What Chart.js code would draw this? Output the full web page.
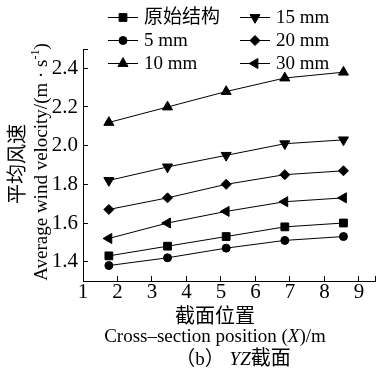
<!DOCTYPE html>
<html>
<head>
<meta charset="utf-8">
<script src="https://cdn.jsdelivr.net/npm/chart.js@4.4.0/dist/chart.umd.min.js"></script>
<style>
  html, body { margin: 0; padding: 0; background: #fff; }
  canvas { display: block; }
</style>
</head>
<body>
<canvas id="velocityChart" width="382" height="377"></canvas>
<script>
// section positions along X (m)
const positions = [1.75, 3.45, 5.15, 6.85, 8.55];

// average wind velocity (m/s) for each gap width
const original = [1.43, 1.48, 1.53, 1.58, 1.60];
const gap5 = [1.38, 1.42, 1.47, 1.51, 1.53];
const gap10 = [2.12, 2.20, 2.28, 2.35, 2.38];
const gap15 = [1.82, 1.89, 1.95, 2.01, 2.03];
const gap20 = [1.67, 1.73, 1.80, 1.85, 1.87];
const gap30 = [1.52, 1.60, 1.66, 1.71, 1.73];

const seriesLabels = ['原始结构', '5 mm', '10 mm', '15 mm', '20 mm', '30 mm'];
const xTicks = [1, 2, 3, 4, 5, 6, 7, 8, 9];
const yTicks = [1.4, 1.6, 1.8, 2.0, 2.2, 2.4];

const X_MIN = 1, X_MAX = 9.47;
const Y_MIN = 1.3, Y_MAX = 2.5;

const SERIF = "'Liberation Serif', 'Noto Sans CJK SC', serif";
const CJK = "'Noto Sans CJK SC', sans-serif";

// marker shape per series
const markers = [
  { pointStyle: 'rect', radius: 5.5, rotation: 0 },
  { pointStyle: 'circle', radius: 4, rotation: 0 },
  { pointStyle: 'triangle', radius: 5.8, rotation: 0 },
  { pointStyle: 'triangle', radius: 5.8, rotation: 180 },
  { pointStyle: 'rectRot', radius: 5, rotation: 0 },
  { pointStyle: 'triangle', radius: 5.8, rotation: -90 }
];

const seriesValues = [original, gap5, gap10, gap15, gap20, gap30];

function toPoints(values) {
  return values.map((v, i) => ({ x: positions[i], y: v }));
}

const datasets = seriesValues.map((values, i) => ({
  label: seriesLabels[i],
  data: toPoints(values),
  borderColor: '#000',
  backgroundColor: '#000',
  borderWidth: 1,
  pointStyle: markers[i].pointStyle,
  pointRadius: markers[i].radius,
  pointRotation: markers[i].rotation,
  pointBorderWidth: 1,
  pointBackgroundColor: '#000',
  pointBorderColor: '#000',
  tension: 0
}));

// draws a row of text pieces with different fonts, centred on cx
function drawRuns(ctx, runs, cx, baseline) {
  let total = 0;
  runs.forEach(r => { ctx.font = r.font; r.w = ctx.measureText(r.text).width; total += r.w; });
  let x = cx - total / 2;
  ctx.textAlign = 'left';
  ctx.textBaseline = 'alphabetic';
  runs.forEach(r => {
    ctx.font = r.font;
    ctx.fillText(r.text, x, baseline - (r.raise || 0));
    x += r.w;
  });
}

const figureText = {
  id: 'figureText',
  afterDraw(chart) {
    const ctx = chart.ctx;
    ctx.save();
    ctx.fillStyle = '#000';
    ctx.strokeStyle = '#000';

    // legend, two columns of three
    const cols = [{ x0: 108, x1: 138, text: 144 }, { x0: 240, x1: 270, text: 276 }];
    const rows = [17, 40, 63];
    chart.data.datasets.forEach((ds, i) => {
      const c = cols[Math.floor(i / 3)];
      const y = rows[i % 3];
      ctx.lineWidth = 1;
      ctx.beginPath();
      ctx.moveTo(c.x0, y + 0.5);
      ctx.lineTo(c.x1, y + 0.5);
      ctx.stroke();
      Chart.helpers.drawPoint(ctx, {
        pointStyle: ds.pointStyle,
        radius: ds.pointRadius,
        rotation: ds.pointRotation,
        borderWidth: 1
      }, (c.x0 + c.x1) / 2, y + 0.5);
      ctx.font = '19px ' + SERIF;
      ctx.textAlign = 'left';
      ctx.textBaseline = 'middle';
      ctx.fillText(ds.label, c.text, y + 1);
    });

    // y axis title, two rotated lines
    ctx.save();
    ctx.translate(16, 164);
    ctx.rotate(-Math.PI / 2);
    ctx.font = '20px ' + CJK;
    ctx.textAlign = 'center';
    ctx.textBaseline = 'middle';
    ctx.fillText('平均风速', 0, 0);
    ctx.restore();

    ctx.save();
    ctx.translate(47, 162);
    ctx.rotate(-Math.PI / 2);
    drawRuns(ctx, [
      { text: 'Average wind velocity/(m · s', font: '19px ' + SERIF },
      { text: '-1', font: '12px ' + SERIF, raise: 8 },
      { text: ')', font: '19px ' + SERIF }
    ], 0, 0);
    ctx.restore();

    // x axis title
    ctx.font = '20px ' + CJK;
    ctx.textAlign = 'center';
    ctx.textBaseline = 'middle';
    ctx.fillText('截面位置', 215, 315);
    drawRuns(ctx, [
      { text: 'Cross–section position (', font: '19px ' + SERIF },
      { text: 'X', font: 'italic 19px ' + SERIF },
      { text: ')/m', font: '19px ' + SERIF }
    ], 215, 342);

    // caption
    drawRuns(ctx, [
      { text: '（', font: '20px ' + CJK },
      { text: 'b', font: '19px ' + SERIF },
      { text: '）', font: '20px ' + CJK },
      { text: ' YZ', font: 'italic 19px ' + SERIF },
      { text: '截面', font: '20px ' + CJK }
    ], 233, 365);

    ctx.restore();
  }
};

const tickFont = { family: SERIF, size: 21 };

new Chart(document.getElementById('velocityChart'), {
  type: 'line',
  data: { datasets: datasets },
  options: {
    responsive: false,
    animation: false,
    devicePixelRatio: 1,
    layout: { padding: { top: 49, right: 1, left: 0, bottom: 0 } },
    plugins: {
      legend: { display: false },
      tooltip: { enabled: false }
    },
    scales: {
      x: {
        type: 'linear',
        min: X_MIN,
        max: X_MAX,
        afterBuildTicks: s => { s.ticks = xTicks.concat([X_MAX]).map(v => ({ value: v })); },
        afterFit: s => { s.height = 96; },
        ticks: {
          color: '#000',
          font: tickFont,
          padding: 4,
          maxRotation: 0,
          autoSkip: false,
          callback: v => (xTicks.includes(v) ? String(v) : '')
        },
        grid: { drawOnChartArea: false, tickLength: -5, color: '#000', lineWidth: 1 },
        border: { display: true, color: '#000', width: 1 }
      },
      y: {
        min: Y_MIN,
        max: Y_MAX,
        afterBuildTicks: s => { s.ticks = yTicks.concat([Y_MAX]).map(v => ({ value: v })); },
        afterFit: s => { s.width = 83; },
        ticks: {
          color: '#000',
          font: tickFont,
          padding: 10,
          autoSkip: false,
          callback: v => (yTicks.some(t => Math.abs(t - v) < 1e-9) ? v.toFixed(1) : '')
        },
        grid: { drawOnChartArea: false, tickLength: -5, color: '#000', lineWidth: 1 },
        border: { display: true, color: '#000', width: 1 }
      }
    }
  },
  plugins: [figureText]
});
</script>
</body>
</html>
